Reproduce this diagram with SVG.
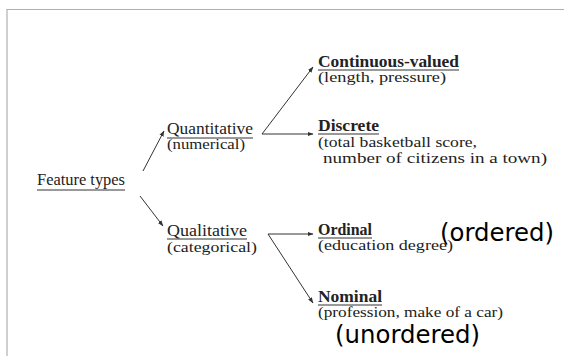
<svg xmlns="http://www.w3.org/2000/svg" width="564" height="356" viewBox="0 0 564 356">
  <defs>
    <marker id="ah" viewBox="0 0 6 6" refX="5.5" refY="3" markerWidth="6" markerHeight="6" markerUnits="userSpaceOnUse" orient="auto">
      <path d="M0,0.8 L6,3 L0,5.2 Z" fill="#333"/>
    </marker>
    <style>
      .s { font-family: "Liberation Serif", "Times New Roman", serif; fill: #222; }
      .h { font-size: 16px; }
      .hb { font-size: 16px; font-weight: bold; }
      .sub { font-size: 15px; }
      .big { font-family: "DejaVu Sans", Verdana, sans-serif; font-size: 24px; fill: #000; }
      .ul { stroke: #333; stroke-width: 1; }
      .c { stroke: #333; stroke-width: 1; fill: none; }
      .frame { stroke: #b0b0b0; stroke-width: 1.2; fill: none; }
    </style>
  </defs>
  <rect x="0" y="0" width="564" height="356" fill="#ffffff"/>
  <path class="frame" d="M7,356 V9.5 H564"/>

  <g id="connectors">
    <line class="c" x1="143" y1="171" x2="164" y2="131" marker-end="url(#ah)"/>
    <line class="c" x1="140" y1="196" x2="163" y2="226" marker-end="url(#ah)"/>
    <line class="c" x1="262" y1="134" x2="313" y2="67" marker-end="url(#ah)"/>
    <line class="c" x1="262" y1="134" x2="313" y2="134" marker-end="url(#ah)"/>
    <line class="c" x1="268" y1="234" x2="313" y2="234" marker-end="url(#ah)"/>
    <line class="c" x1="268" y1="234" x2="313" y2="303" marker-end="url(#ah)"/>
  </g>

  <g id="feature-types">
    <text class="s h" x="37" y="185" textLength="88" lengthAdjust="spacingAndGlyphs">Feature types</text>
    <line class="ul" x1="37" y1="190" x2="125" y2="190"/>
  </g>

  <g id="quantitative">
    <text class="s h" x="167" y="134" textLength="86" lengthAdjust="spacingAndGlyphs">Quantitative</text>
    <line class="ul" x1="167" y1="138" x2="253" y2="138"/>
    <text class="s sub" x="167" y="149" textLength="78" lengthAdjust="spacingAndGlyphs">(numerical)</text>
  </g>

  <g id="qualitative">
    <text class="s h" x="167" y="236" textLength="80" lengthAdjust="spacingAndGlyphs">Qualitative</text>
    <line class="ul" x1="167" y1="239" x2="247" y2="239"/>
    <text class="s sub" x="167" y="252" textLength="90" lengthAdjust="spacingAndGlyphs">(categorical)</text>
  </g>

  <g id="continuous">
    <text class="s hb" x="318" y="67" textLength="141" lengthAdjust="spacingAndGlyphs">Continuous-valued</text>
    <line class="ul" x1="318" y1="70" x2="459" y2="70"/>
    <text class="s sub" x="318" y="82" textLength="128" lengthAdjust="spacingAndGlyphs">(length, pressure)</text>
  </g>

  <g id="discrete">
    <text class="s hb" x="318" y="131" textLength="61" lengthAdjust="spacingAndGlyphs">Discrete</text>
    <line class="ul" x1="318" y1="134" x2="379" y2="134"/>
    <text class="s sub" x="318" y="147" textLength="159" lengthAdjust="spacingAndGlyphs">(total basketball score,</text>
    <text class="s sub" x="323" y="163" textLength="224" lengthAdjust="spacingAndGlyphs">number of citizens in a town)</text>
  </g>

  <g id="ordinal">
    <text class="s hb" x="318" y="235" textLength="54" lengthAdjust="spacingAndGlyphs">Ordinal</text>
    <line class="ul" x1="318" y1="238" x2="372" y2="238"/>
    <text class="s sub" x="318" y="250" textLength="135" lengthAdjust="spacingAndGlyphs">(education degree)</text>
    <text class="big" x="440" y="241" textLength="114" lengthAdjust="spacingAndGlyphs">(ordered)</text>
  </g>

  <g id="nominal">
    <text class="s hb" x="318" y="302" textLength="64" lengthAdjust="spacingAndGlyphs">Nominal</text>
    <line class="ul" x1="318" y1="305" x2="382" y2="305"/>
    <text class="s sub" x="318" y="317" textLength="185" lengthAdjust="spacingAndGlyphs">(profession, make of a car)</text>
    <text class="big" x="335" y="343" textLength="145" lengthAdjust="spacingAndGlyphs">(unordered)</text>
  </g>
</svg>
